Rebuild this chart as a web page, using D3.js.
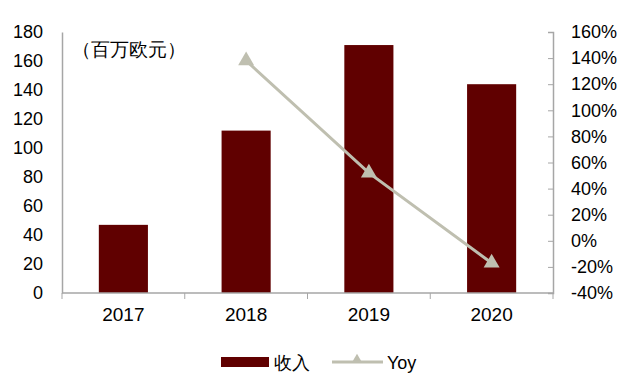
<!DOCTYPE html>
<html><head><meta charset="utf-8">
<script src="https://cdn.jsdelivr.net/npm/d3@7"></script>
<style>body{margin:0;background:#fff}text{font-family:"Liberation Sans",Arial,sans-serif;fill:#000}</style>
</head><body><svg id="c" width="640" height="382"></svg>
<script>
const categories = ["2017","2018","2019","2020"];
const revenue = [47, 112, 171, 144];
const yoyYears = ["2018","2019","2020"];
const yoy = [1.38, 0.52, -0.17];
const leftTicks = [0,20,40,60,80,100,120,140,160,180];
const rightTicks = [-0.4,-0.2,0,0.2,0.4,0.6,0.8,1.0,1.2,1.4,1.6];
const unitLabel = "（百万欧元）";
const legendLabels = ["收入","Yoy"];

const svg = d3.select("#c");
const L = 62, R = 553, T = 32, B = 293;
const axisColor = "#a6a6a6", barColor = "#600000", lineColor = "#bfbfb0";

const x = d3.scaleBand().domain(categories).range([L, R]).paddingInner(0.6).paddingOuter(0.3);
const yL = d3.scaleLinear().domain([0,180]).range([B, T]);
const yR = d3.scaleLinear().domain([-0.4,1.6]).range([B, T]);

// bars
svg.selectAll("rect.bar").data(categories).enter().append("rect")
  .attr("x", d => x(d)).attr("width", x.bandwidth())
  .attr("y", (d,i) => yL(revenue[i])).attr("height", (d,i) => B - yL(revenue[i]))
  .attr("fill", barColor);

// left axis
const gl = svg.append("g").attr("transform", `translate(${L},0)`)
  .call(d3.axisLeft(yL).tickValues(leftTicks).tickSize(0).tickPadding(19));
gl.select(".domain").attr("stroke", axisColor).attr("stroke-width", 1.5);
gl.selectAll("text").attr("font-size", 18).attr("font-family", "Liberation Sans, Arial, sans-serif");

// right axis
const gr = svg.append("g").attr("transform", `translate(${R},0)`)
  .call(d3.axisRight(yR).tickValues(rightTicks).tickSize(-5).tickPadding(18).tickFormat(d => Math.round(d*100) + "%"));
gr.select(".domain").attr("stroke", axisColor).attr("stroke-width", 1.5);
gr.selectAll(".tick line").attr("stroke", axisColor);
gr.selectAll("text").attr("font-size", 18).attr("font-family", "Liberation Sans, Arial, sans-serif");

// bottom axis
const xb = d3.scaleLinear().domain([0,4]).range([L, R]);
const gb = svg.append("g").attr("transform", `translate(0,${B})`);
gb.append("line").attr("x1", L).attr("x2", R).attr("stroke", axisColor).attr("stroke-width", 1.5);
gb.selectAll("line.t").data(d3.range(5)).enter().append("line")
  .attr("x1", d => xb(d)).attr("x2", d => xb(d)).attr("y1", 0).attr("y2", 6).attr("stroke", axisColor);
gb.selectAll("text.c").data(categories).enter().append("text")
  .attr("x", d => x(d) + x.bandwidth()/2).attr("y", 28).attr("text-anchor", "middle")
  .attr("font-size", 19).text(d => d);

// yoy line
const line = d3.line().x((d,i) => x(yoyYears[i]) + x.bandwidth()/2).y(d => yR(d));
svg.append("path").datum(yoy).attr("d", line).attr("fill", "none")
  .attr("stroke", lineColor).attr("stroke-width", 3);
const tri = d3.symbol().type(d3.symbolTriangle).size(110);
svg.selectAll("path.m").data(yoy).enter().append("path")
  .attr("d", tri).attr("fill", lineColor)
  .attr("transform", (d,i) => `translate(${x(yoyYears[i]) + x.bandwidth()/2},${yR(d)})`);

// unit label
svg.append("text").attr("x", 72).attr("y", 56).attr("font-size", 18.5)
  .attr("font-family", "Noto Sans CJK SC, sans-serif").text(unitLabel);

// legend
svg.append("rect").attr("x", 221).attr("y", 357).attr("width", 48).attr("height", 10).attr("fill", barColor);
svg.append("text").attr("x", 274).attr("y", 369).attr("font-size", 18)
  .attr("font-family", "Noto Sans CJK SC, sans-serif").text(legendLabels[0]);
svg.append("line").attr("x1", 332).attr("x2", 383).attr("y1", 362).attr("y2", 362)
  .attr("stroke", lineColor).attr("stroke-width", 3);
svg.append("path").attr("d", d3.symbol().type(d3.symbolTriangle).size(50))
  .attr("fill", lineColor).attr("transform", "translate(357,360)");
svg.append("text").attr("x", 387).attr("y", 369).attr("font-size", 18)
  .attr("font-family", "Noto Sans CJK SC, sans-serif").text(legendLabels[1]);
</script></body></html>
